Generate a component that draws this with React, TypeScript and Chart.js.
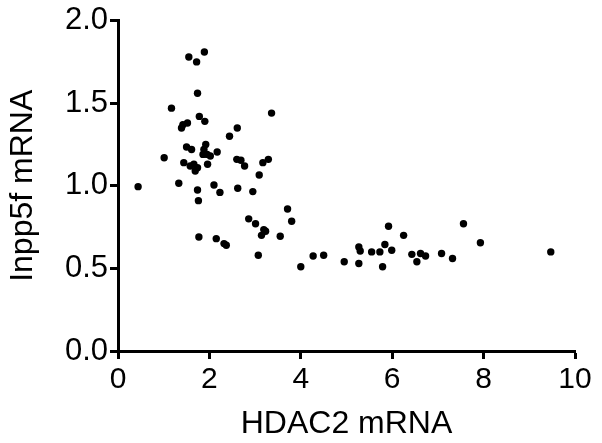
import React, { useEffect, useRef } from "react";
import { Chart, registerables } from "chart.js";

Chart.register(...registerables);

const hdac2: number[] = [
  0.44, 1.01, 1.17, 1.33, 1.39, 1.42, 1.44, 1.5, 1.52, 1.55,
  1.58, 1.61, 1.66, 1.69, 1.72, 1.74, 1.74, 1.74, 1.76, 1.77,
  1.78, 1.89, 1.9, 1.92, 1.88, 1.86, 1.95, 2.02, 1.96, 2.1,
  2.15, 2.17, 2.23, 2.32, 2.37, 2.44, 2.61, 2.6, 2.69, 2.77,
  2.62, 2.86, 2.95, 3.01, 3.07, 3.09, 3.14, 3.17, 3.19, 3.23,
  3.29, 3.36, 3.55, 3.71, 3.8, 4.0, 4.27, 4.5, 4.95, 5.27,
  5.3, 5.27, 5.55, 5.73, 5.79, 5.84, 5.92, 5.99, 6.25, 6.43,
  6.62, 6.73, 6.54, 7.08, 7.32, 7.56, 7.93, 9.47,
];

const inpp5f: number[] = [
  0.995, 1.17, 1.47, 1.015, 1.35, 1.37, 1.14, 1.235, 1.38, 1.78,
  1.12, 1.22, 1.13, 1.09, 1.75, 1.56, 1.11, 0.975, 0.91, 0.69,
  1.42, 1.81, 1.39, 1.25, 1.22, 1.19, 1.19, 1.18, 1.13, 1.005,
  0.68, 1.205, 0.96, 0.65, 0.64, 1.3, 1.35, 1.16, 1.155, 1.12,
  0.985, 0.8, 0.965, 0.77, 0.58, 1.065, 0.7, 1.14, 0.735, 0.725,
  1.16, 1.44, 0.695, 0.86, 0.785, 0.51, 0.575, 0.58, 0.54, 0.63,
  0.605, 0.53, 0.6, 0.6, 0.51, 0.645, 0.755, 0.61, 0.7, 0.585,
  0.59, 0.575, 0.54, 0.59, 0.56, 0.77, 0.655, 0.6,
];

const xTicks: number[] = [0, 2, 4, 6, 8, 10];
const yTicks: number[] = [0, 0.5, 1.0, 1.5, 2.0];
const xTitle = "HDAC2 mRNA";
const yTitle = "Inpp5f mRNA";

export default function App() {
  const ref = useRef<HTMLCanvasElement | null>(null);

  useEffect(() => {
    if (!ref.current) return;
    const font = "'Liberation Sans', Arial, Helvetica, sans-serif";
    const chart = new Chart(ref.current, {
      type: "scatter",
      data: {
        datasets: [
          {
            data: hdac2.map((x, i) => ({ x, y: inpp5f[i] })),
            backgroundColor: "#000",
            borderColor: "#000",
            pointRadius: 3.7,
            pointBorderWidth: 0,
          },
        ],
      },
      options: {
        animation: false,
        responsive: false,
        maintainAspectRatio: false,
        layout: { padding: { top: 18, right: 27, left: 0, bottom: 0 } },
        plugins: { legend: { display: false }, tooltip: { enabled: false } },
        scales: {
          x: {
            type: "linear",
            min: 0,
            max: 10,
            afterBuildTicks: (s: any) => {
              s.ticks = xTicks.map((v) => ({ value: v }));
            },
            afterFit: (s: any) => {
              s.height = 92;
            },
            border: { display: true, color: "#000", width: 3 },
            grid: {
              display: true,
              drawOnChartArea: false,
              drawTicks: true,
              tickLength: 8,
              tickColor: "#000",
              tickWidth: 3,
            },
            ticks: {
              color: "#000",
              padding: 3,
              maxRotation: 0,
              font: { family: font, size: 30 },
              callback: (v: any) => String(v),
            },
            title: {
              display: true,
              text: xTitle,
              color: "#000",
              font: { family: font, size: 32 },
              padding: { top: 2, bottom: 0 },
            },
          },
          y: {
            type: "linear",
            min: 0,
            max: 2,
            afterBuildTicks: (s: any) => {
              s.ticks = yTicks.map((v) => ({ value: v }));
            },
            afterFit: (s: any) => {
              s.width = 118;
            },
            border: { display: true, color: "#000", width: 3 },
            grid: {
              display: true,
              drawOnChartArea: false,
              drawTicks: true,
              tickLength: 8,
              tickColor: "#000",
              tickWidth: 3,
            },
            ticks: {
              color: "#000",
              padding: 2,
              font: { family: font, size: 31 },
              callback: (v: any) => Number(v).toFixed(1),
            },
            title: {
              display: true,
              text: yTitle,
              color: "#000",
              font: { family: font, size: 32 },
              padding: { top: 4, bottom: 0 },
            },
          },
        },
      },
    });
    return () => chart.destroy();
  }, []);

  return (
    <div style={{ position: "fixed", left: 0, top: 0, width: 602, height: 443, background: "#fff" }}>
      <canvas ref={ref} width={602} height={443} style={{ width: 602, height: 443 }} />
    </div>
  );
}
